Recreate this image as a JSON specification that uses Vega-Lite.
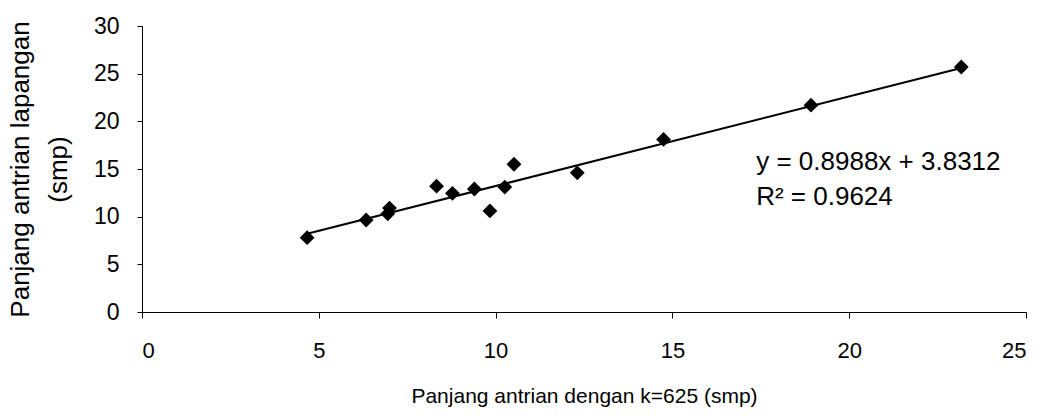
{
  "$schema": "https://vega.github.io/schema/vega-lite/v6.json",
  "autosize": "none",
  "width": 884,
  "height": 286,
  "padding": {"left": 142, "top": 26, "right": 21, "bottom": 104},
  "background": "white",
  "config": {
    "view": {"stroke": null},
    "font": "Liberation Sans",
    "axis": {"grid": false, "domainColor": "#000", "tickColor": "#000", "labelColor": "#000", "titleColor": "#000", "labelFont": "Liberation Sans", "titleFont": "Liberation Sans", "titleFontWeight": "normal"}
  },
  "datasets": {
    "points": [
      {"x": 4.67, "y": 7.8},
      {"x": 6.34, "y": 9.65},
      {"x": 6.95, "y": 10.3},
      {"x": 7.0, "y": 10.9},
      {"x": 8.33, "y": 13.2},
      {"x": 8.78, "y": 12.45},
      {"x": 9.4, "y": 12.9},
      {"x": 9.84, "y": 10.6},
      {"x": 10.26, "y": 13.1},
      {"x": 10.52, "y": 15.5},
      {"x": 12.31, "y": 14.6},
      {"x": 14.75, "y": 18.1},
      {"x": 18.92, "y": 21.7},
      {"x": 23.17, "y": 25.7}
    ],
    "trend": [
      {"x": 4.67, "y": 8.2},
      {"x": 23.17, "y": 25.6}
    ],
    "labels": [
      {"x": 17.37, "y": 14.9, "text": "y = 0.8988x + 3.8312"},
      {"x": 17.37, "y": 11.2, "text": "R² = 0.9624"}
    ]
  },
  "encoding": {
    "x": {"field": "x", "type": "quantitative", "scale": {"domain": [0, 25], "nice": false, "zero": false},
      "axis": {"values": [0, 5, 10, 15, 20, 25], "title": "Panjang antrian dengan k=625 (smp)", "labelFontSize": 22, "titleFontSize": 21, "labelPadding": 22, "tickSize": 6, "titlePadding": 24}},
    "y": {"field": "y", "type": "quantitative", "scale": {"domain": [0, 30], "nice": false, "zero": false},
      "axis": {"values": [0, 5, 10, 15, 20, 25, 30], "title": ["Panjang antrian lapangan", "(smp)"], "labelFontSize": 23, "titleFontSize": 26, "labelPadding": 18, "tickSize": 5, "titleLineHeight": 38, "titlePadding": 22}}
  },
  "layer": [
    {
      "data": {"name": "trend"},
      "mark": {"type": "line", "color": "#000", "strokeWidth": 2}
    },
    {
      "data": {"name": "points"},
      "mark": {"type": "point", "shape": "diamond", "filled": true, "color": "#000", "size": 220, "opacity": 1}
    },
    {
      "data": {"name": "labels"},
      "mark": {"type": "text", "align": "left", "baseline": "alphabetic", "fontSize": 26, "color": "#000", "font": "Liberation Sans"},
      "encoding": {
        "text": {"field": "text"}
      }
    }
  ]
}
